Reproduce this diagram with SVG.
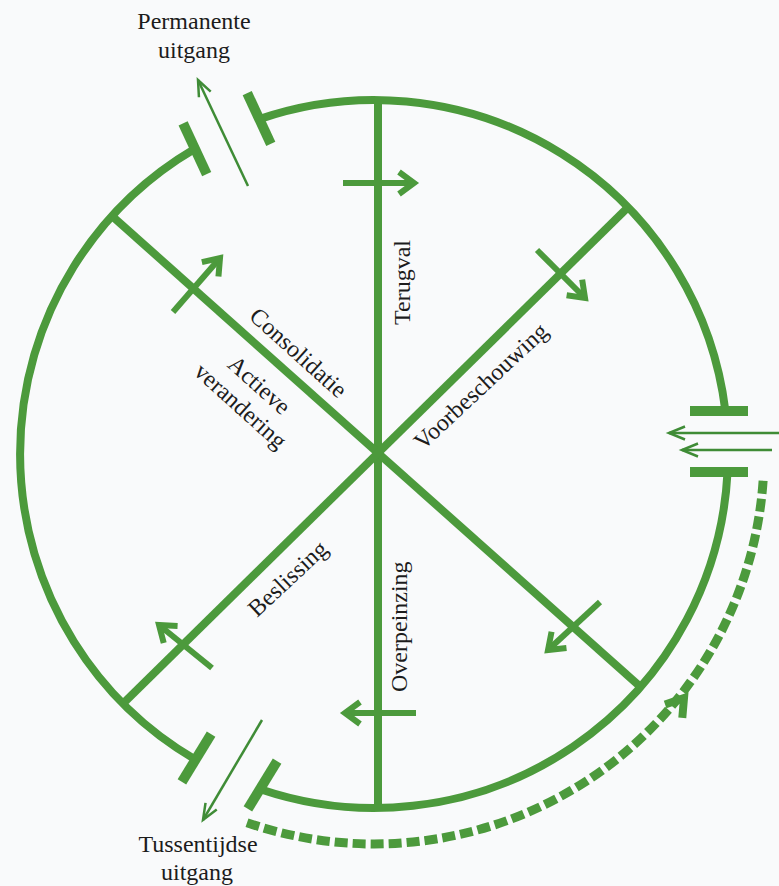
<svg xmlns="http://www.w3.org/2000/svg" width="779" height="886" viewBox="0 0 779 886">
<style>
.ring{fill:none;stroke:#4c9a3c;stroke-width:8}
.sp{fill:none;stroke:#4c9a3c;stroke-width:8}
.cap{fill:none;stroke:#4c9a3c;stroke-width:10}
.arr{fill:none;stroke:#4c9a3c;stroke-width:6;marker-end:url(#ah)}
.thin{fill:none;stroke:#3f8c36;stroke-width:2.5;marker-end:url(#th)}
.dash{fill:none;stroke:#4c9a3c;stroke-width:9;stroke-dasharray:13 5}
.dhead{fill:none;stroke:#4c9a3c;stroke-width:8}
text{font-family:"Liberation Serif","Times New Roman",serif;font-size:24px;fill:#1c1c1c}
</style>
<defs>
<marker id="ah" markerUnits="userSpaceOnUse" viewBox="-20 -15 30 30" markerWidth="30" markerHeight="30" refX="0" refY="0" orient="auto" overflow="visible">
<path d="M-15,-11 L0,0 L-15,11" fill="none" stroke="#4c9a3c" stroke-width="6"/>
</marker>
<marker id="th" markerUnits="userSpaceOnUse" viewBox="-20 -10 24 20" markerWidth="24" markerHeight="20" refX="0" refY="0" orient="auto" overflow="visible">
<path d="M-16,-6.5 L0,0 L-16,6.5" fill="none" stroke="#3f8c36" stroke-width="2.5"/>
</marker>
</defs>
<rect x="0" y="0" width="779" height="886" fill="#f9fafb"/>
<g id="connectors">
<path class="ring" d="M259.3,119.1 A354,354 0 0 1 725.4,410.9"/>
<path class="ring" d="M727.5,472.5 A354,354 0 0 1 261.1,789.5"/>
<path class="ring" d="M195.4,759.6 A354,354 0 0 1 194.9,148.7"/>
<line class="cap" x1="183.1" y1="123.3" x2="206.7" y2="174.1"/>
<line class="cap" x1="247.2" y1="93.1" x2="270.8" y2="143.9"/>
<line class="cap" x1="181.9" y1="781.9" x2="211.1" y2="734.1"/>
<line class="cap" x1="247.9" y1="808.9" x2="277.1" y2="761.1"/>
<line class="cap" x1="690" y1="411" x2="748" y2="411"/>
<line class="cap" x1="690" y1="472" x2="748" y2="472"/>
<line class="sp" x1="378" y1="100" x2="378" y2="808"/>
<line class="sp" x1="112" y1="216" x2="640.6" y2="687"/>
<line class="sp" x1="627.9" y1="207.4" x2="123" y2="703.6"/>
<path class="arr" d="M343,183 L414,183"/>
<path class="arr" d="M173,312 L220,258"/>
<path class="arr" d="M537,250 L585,298"/>
<path class="arr" d="M416,713 L345,713"/>
<path class="arr" d="M600,602 L548,650"/>
<path class="arr" d="M212,668 L159,625"/>
<path class="thin" d="M248,186 L198,80"/>
<path class="thin" d="M262,720 L203,820"/>
<path class="thin" d="M779,433 L669,433"/>
<path class="thin" d="M772,450 L682,450"/>
<path class="dash" d="M247,822.7 A390,390 0 0 0 763.3,477.8"/>
<path class="dhead" d="M682.3,717.9 L684,698 L665.1,704.5"/>
</g>
<g id="terugval"><text transform="translate(410,325) rotate(-90)">Terugval</text></g>
<g id="voorbeschouwing"><text transform="translate(423,451) rotate(-43)">Voorbeschouwing</text></g>
<g id="consolidatie"><text transform="translate(248,318) rotate(42)">Consolidatie</text></g>
<g id="actieve-verandering" transform="translate(254,391) rotate(42)"><text text-anchor="middle">Actieve</text><text y="28" text-anchor="middle">verandering</text></g>
<g id="beslissing"><text transform="translate(257,618) rotate(-43)">Beslissing</text></g>
<g id="overpeinzing"><text transform="translate(407,692) rotate(-90)">Overpeinzing</text></g>
<g id="permanente-uitgang"><text x="194" y="29" text-anchor="middle">Permanente</text><text x="194" y="58" text-anchor="middle">uitgang</text></g>
<g id="tussentijdse-uitgang"><text x="198" y="852" text-anchor="middle">Tussentijdse</text><text x="197" y="880" text-anchor="middle">uitgang</text></g>
</svg>
